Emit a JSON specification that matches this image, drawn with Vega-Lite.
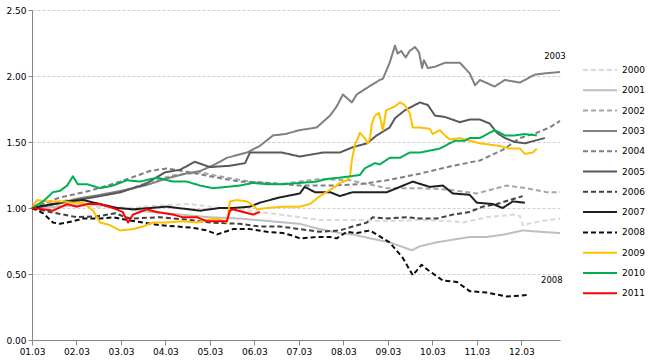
{
  "$schema": "https://vega.github.io/schema/vega-lite/v6.json",
  "width": 528,
  "height": 330,
  "autosize": "none",
  "padding": {"left": 32, "top": 10, "right": 94, "bottom": 24},
  "background": "white",
  "config": {
    "view": {"stroke": null},
    "font": "DejaVu Sans",
    "axis": {"labelFont": "DejaVu Sans", "labelFontSize": 9, "labelColor": "#000000", "domainColor": "#868686", "tickColor": "#868686", "title": null}
  },
  "layer": [
    {
      "data": {"values": [
        {"s":"2000","m":0,"v":1.00},{"s":"2000","m":0.63,"v":1.02},{"s":"2000","m":1.53,"v":1.01},{"s":"2000","m":2.20,"v":1.00},{"s":"2000","m":2.88,"v":1.02},{"s":"2000","m":3.55,"v":1.03},{"s":"2000","m":4.22,"v":1.00},{"s":"2000","m":4.90,"v":0.98},{"s":"2000","m":5.57,"v":0.95},{"s":"2000","m":6.02,"v":0.93},{"s":"2000","m":6.47,"v":0.91},{"s":"2000","m":7.21,"v":0.91},{"s":"2000","m":7.98,"v":0.90},{"s":"2000","m":8.72,"v":0.91},{"s":"2000","m":9.46,"v":0.90},{"s":"2000","m":9.69,"v":0.89},{"s":"2000","m":10.22,"v":0.93},{"s":"2000","m":10.81,"v":0.95},{"s":"2000","m":10.97,"v":0.94},{"s":"2000","m":11.03,"v":0.87},{"s":"2000","m":11.42,"v":0.90},{"s":"2000","m":11.87,"v":0.92},
        {"s":"2001","m":0,"v":1.00},{"s":"2001","m":0.63,"v":1.01},{"s":"2001","m":1.30,"v":1.03},{"s":"2001","m":1.98,"v":1.00},{"s":"2001","m":2.65,"v":0.97},{"s":"2001","m":3.33,"v":0.95},{"s":"2001","m":4.00,"v":0.93},{"s":"2001","m":4.67,"v":0.92},{"s":"2001","m":5.35,"v":0.90},{"s":"2001","m":6.02,"v":0.88},{"s":"2001","m":6.47,"v":0.84},{"s":"2001","m":6.92,"v":0.81},{"s":"2001","m":7.21,"v":0.80},{"s":"2001","m":7.60,"v":0.77},{"s":"2001","m":8.04,"v":0.74},{"s":"2001","m":8.54,"v":0.68},{"s":"2001","m":8.72,"v":0.71},{"s":"2001","m":9.10,"v":0.74},{"s":"2001","m":9.46,"v":0.76},{"s":"2001","m":9.84,"v":0.78},{"s":"2001","m":10.22,"v":0.78},{"s":"2001","m":10.63,"v":0.80},{"s":"2001","m":11.03,"v":0.83},{"s":"2001","m":11.42,"v":0.82},{"s":"2001","m":11.87,"v":0.81},
        {"s":"2002","m":0,"v":1.00},{"s":"2002","m":0.63,"v":1.05},{"s":"2002","m":1.30,"v":1.08},{"s":"2002","m":1.98,"v":1.12},{"s":"2002","m":2.65,"v":1.20},{"s":"2002","m":3.21,"v":1.25},{"s":"2002","m":3.78,"v":1.27},{"s":"2002","m":4.22,"v":1.24},{"s":"2002","m":4.90,"v":1.20},{"s":"2002","m":5.57,"v":1.18},{"s":"2002","m":6.47,"v":1.22},{"s":"2002","m":7.15,"v":1.21},{"s":"2002","m":7.98,"v":1.15},{"s":"2002","m":8.72,"v":1.15},{"s":"2002","m":9.33,"v":1.14},{"s":"2002","m":10.00,"v":1.11},{"s":"2002","m":10.67,"v":1.17},{"s":"2002","m":11.12,"v":1.15},{"s":"2002","m":11.57,"v":1.12},{"s":"2002","m":11.87,"v":1.12},
        {"s":"2003","m":0,"v":1.00},{"s":"2003","m":0.52,"v":1.03},{"s":"2003","m":1.01,"v":1.07},{"s":"2003","m":1.53,"v":1.10},{"s":"2003","m":2.00,"v":1.13},{"s":"2003","m":2.54,"v":1.17},{"s":"2003","m":2.99,"v":1.22},{"s":"2003","m":3.44,"v":1.26},{"s":"2003","m":3.78,"v":1.28},{"s":"2003","m":4.11,"v":1.33},{"s":"2003","m":4.38,"v":1.38},{"s":"2003","m":4.83,"v":1.42},{"s":"2003","m":5.12,"v":1.47},{"s":"2003","m":5.42,"v":1.55},{"s":"2003","m":5.69,"v":1.56},{"s":"2003","m":6.02,"v":1.59},{"s":"2003","m":6.40,"v":1.61},{"s":"2003","m":6.70,"v":1.70},{"s":"2003","m":6.85,"v":1.77},{"s":"2003","m":6.99,"v":1.86},{"s":"2003","m":7.19,"v":1.80},{"s":"2003","m":7.30,"v":1.86},{"s":"2003","m":7.53,"v":1.91},{"s":"2003","m":7.82,"v":1.97},{"s":"2003","m":7.89,"v":1.98},{"s":"2003","m":8.04,"v":2.10},{"s":"2003","m":8.16,"v":2.23},{"s":"2003","m":8.22,"v":2.17},{"s":"2003","m":8.30,"v":2.19},{"s":"2003","m":8.40,"v":2.14},{"s":"2003","m":8.49,"v":2.19},{"s":"2003","m":8.61,"v":2.22},{"s":"2003","m":8.70,"v":2.18},{"s":"2003","m":8.77,"v":2.06},{"s":"2003","m":8.81,"v":2.12},{"s":"2003","m":8.90,"v":2.06},{"s":"2003","m":9.06,"v":2.07},{"s":"2003","m":9.28,"v":2.10},{"s":"2003","m":9.62,"v":2.10},{"s":"2003","m":9.84,"v":2.02},{"s":"2003","m":9.96,"v":1.93},{"s":"2003","m":10.07,"v":1.97},{"s":"2003","m":10.40,"v":1.92},{"s":"2003","m":10.63,"v":1.97},{"s":"2003","m":10.97,"v":1.95},{"s":"2003","m":11.30,"v":2.01},{"s":"2003","m":11.53,"v":2.02},{"s":"2003","m":11.87,"v":2.03},
        {"s":"2004","m":0,"v":1.00},{"s":"2004","m":0.63,"v":1.08},{"s":"2004","m":1.30,"v":1.13},{"s":"2004","m":1.98,"v":1.20},{"s":"2004","m":2.65,"v":1.28},{"s":"2004","m":3.03,"v":1.30},{"s":"2004","m":3.55,"v":1.27},{"s":"2004","m":4.00,"v":1.24},{"s":"2004","m":4.67,"v":1.20},{"s":"2004","m":5.35,"v":1.19},{"s":"2004","m":6.02,"v":1.17},{"s":"2004","m":6.70,"v":1.17},{"s":"2004","m":7.37,"v":1.18},{"s":"2004","m":7.98,"v":1.21},{"s":"2004","m":8.72,"v":1.26},{"s":"2004","m":9.46,"v":1.32},{"s":"2004","m":10.07,"v":1.36},{"s":"2004","m":10.58,"v":1.44},{"s":"2004","m":10.97,"v":1.53},{"s":"2004","m":11.35,"v":1.57},{"s":"2004","m":11.64,"v":1.61},{"s":"2004","m":11.87,"v":1.66},
        {"s":"2005","m":0,"v":1.00},{"s":"2005","m":0.52,"v":1.03},{"s":"2005","m":1.01,"v":1.06},{"s":"2005","m":1.53,"v":1.09},{"s":"2005","m":2.00,"v":1.12},{"s":"2005","m":2.54,"v":1.18},{"s":"2005","m":2.99,"v":1.27},{"s":"2005","m":3.33,"v":1.29},{"s":"2005","m":3.66,"v":1.35},{"s":"2005","m":4.00,"v":1.31},{"s":"2005","m":4.45,"v":1.32},{"s":"2005","m":4.79,"v":1.34},{"s":"2005","m":4.90,"v":1.42},{"s":"2005","m":5.28,"v":1.42},{"s":"2005","m":5.62,"v":1.42},{"s":"2005","m":6.02,"v":1.39},{"s":"2005","m":6.54,"v":1.42},{"s":"2005","m":6.92,"v":1.42},{"s":"2005","m":7.21,"v":1.46},{"s":"2005","m":7.53,"v":1.49},{"s":"2005","m":7.75,"v":1.55},{"s":"2005","m":8.04,"v":1.61},{"s":"2005","m":8.16,"v":1.68},{"s":"2005","m":8.38,"v":1.74},{"s":"2005","m":8.72,"v":1.80},{"s":"2005","m":8.90,"v":1.78},{"s":"2005","m":9.06,"v":1.70},{"s":"2005","m":9.28,"v":1.69},{"s":"2005","m":9.62,"v":1.65},{"s":"2005","m":9.84,"v":1.67},{"s":"2005","m":10.07,"v":1.67},{"s":"2005","m":10.29,"v":1.64},{"s":"2005","m":10.45,"v":1.57},{"s":"2005","m":10.63,"v":1.53},{"s":"2005","m":10.85,"v":1.50},{"s":"2005","m":11.08,"v":1.49},{"s":"2005","m":11.30,"v":1.51},{"s":"2005","m":11.53,"v":1.53},
        {"s":"2006","m":0,"v":1.00},{"s":"2006","m":0.40,"v":0.97},{"s":"2006","m":1.01,"v":0.93},{"s":"2006","m":1.53,"v":0.94},{"s":"2006","m":1.87,"v":0.96},{"s":"2006","m":2.20,"v":0.92},{"s":"2006","m":2.88,"v":0.93},{"s":"2006","m":3.55,"v":0.91},{"s":"2006","m":4.00,"v":0.89},{"s":"2006","m":4.67,"v":0.88},{"s":"2006","m":5.12,"v":0.86},{"s":"2006","m":5.57,"v":0.86},{"s":"2006","m":6.02,"v":0.84},{"s":"2006","m":6.47,"v":0.82},{"s":"2006","m":6.92,"v":0.83},{"s":"2006","m":7.21,"v":0.86},{"s":"2006","m":7.53,"v":0.89},{"s":"2006","m":7.66,"v":0.93},{"s":"2006","m":7.98,"v":0.92},{"s":"2006","m":8.43,"v":0.93},{"s":"2006","m":8.72,"v":0.92},{"s":"2006","m":9.10,"v":0.92},{"s":"2006","m":9.46,"v":0.95},{"s":"2006","m":9.84,"v":0.97},{"s":"2006","m":10.13,"v":1.01},{"s":"2006","m":10.45,"v":1.03},{"s":"2006","m":10.74,"v":1.06},{"s":"2006","m":11.03,"v":1.09},
        {"s":"2007","m":0,"v":1.00},{"s":"2007","m":0.79,"v":1.05},{"s":"2007","m":1.15,"v":1.06},{"s":"2007","m":1.53,"v":1.03},{"s":"2007","m":1.91,"v":1.00},{"s":"2007","m":2.27,"v":0.99},{"s":"2007","m":3.03,"v":1.01},{"s":"2007","m":3.78,"v":0.98},{"s":"2007","m":4.22,"v":1.00},{"s":"2007","m":4.52,"v":1.00},{"s":"2007","m":4.90,"v":1.01},{"s":"2007","m":5.12,"v":1.04},{"s":"2007","m":5.57,"v":1.08},{"s":"2007","m":6.02,"v":1.11},{"s":"2007","m":6.13,"v":1.16},{"s":"2007","m":6.36,"v":1.12},{"s":"2007","m":6.70,"v":1.12},{"s":"2007","m":6.92,"v":1.09},{"s":"2007","m":7.21,"v":1.12},{"s":"2007","m":7.98,"v":1.12},{"s":"2007","m":8.56,"v":1.20},{"s":"2007","m":8.94,"v":1.16},{"s":"2007","m":9.24,"v":1.17},{"s":"2007","m":9.46,"v":1.11},{"s":"2007","m":9.84,"v":1.10},{"s":"2007","m":10.00,"v":1.04},{"s":"2007","m":10.36,"v":1.03},{"s":"2007","m":10.58,"v":1.00},{"s":"2007","m":10.81,"v":1.05},{"s":"2007","m":11.08,"v":1.04},
        {"s":"2008","m":0,"v":1.00},{"s":"2008","m":0.25,"v":0.96},{"s":"2008","m":0.47,"v":0.89},{"s":"2008","m":0.63,"v":0.88},{"s":"2008","m":0.92,"v":0.90},{"s":"2008","m":1.15,"v":0.92},{"s":"2008","m":1.53,"v":0.92},{"s":"2008","m":1.82,"v":0.93},{"s":"2008","m":2.13,"v":0.91},{"s":"2008","m":2.49,"v":0.89},{"s":"2008","m":2.88,"v":0.87},{"s":"2008","m":3.26,"v":0.86},{"s":"2008","m":3.62,"v":0.85},{"s":"2008","m":3.93,"v":0.83},{"s":"2008","m":4.16,"v":0.80},{"s":"2008","m":4.52,"v":0.84},{"s":"2008","m":4.90,"v":0.84},{"s":"2008","m":5.28,"v":0.82},{"s":"2008","m":5.64,"v":0.81},{"s":"2008","m":5.87,"v":0.79},{"s":"2008","m":6.02,"v":0.77},{"s":"2008","m":6.40,"v":0.78},{"s":"2008","m":6.70,"v":0.78},{"s":"2008","m":6.85,"v":0.77},{"s":"2008","m":7.08,"v":0.82},{"s":"2008","m":7.30,"v":0.81},{"s":"2008","m":7.60,"v":0.83},{"s":"2008","m":8.04,"v":0.74},{"s":"2008","m":8.34,"v":0.62},{"s":"2008","m":8.56,"v":0.49},{"s":"2008","m":8.76,"v":0.57},{"s":"2008","m":8.90,"v":0.53},{"s":"2008","m":9.24,"v":0.45},{"s":"2008","m":9.55,"v":0.44},{"s":"2008","m":9.84,"v":0.37},{"s":"2008","m":10.22,"v":0.36},{"s":"2008","m":10.67,"v":0.33},{"s":"2008","m":11.12,"v":0.34},
        {"s":"2009","m":0,"v":1.00},{"s":"2009","m":0.11,"v":1.06},{"s":"2009","m":0.34,"v":1.05},{"s":"2009","m":0.70,"v":1.05},{"s":"2009","m":0.92,"v":1.04},{"s":"2009","m":1.15,"v":1.04},{"s":"2009","m":1.37,"v":0.98},{"s":"2009","m":1.53,"v":0.89},{"s":"2009","m":1.75,"v":0.87},{"s":"2009","m":1.98,"v":0.83},{"s":"2009","m":2.27,"v":0.84},{"s":"2009","m":2.49,"v":0.86},{"s":"2009","m":2.72,"v":0.89},{"s":"2009","m":3.03,"v":0.89},{"s":"2009","m":3.39,"v":0.90},{"s":"2009","m":3.71,"v":0.89},{"s":"2009","m":3.93,"v":0.91},{"s":"2009","m":4.16,"v":0.92},{"s":"2009","m":4.38,"v":0.89},{"s":"2009","m":4.45,"v":1.05},{"s":"2009","m":4.61,"v":1.06},{"s":"2009","m":4.83,"v":1.05},{"s":"2009","m":4.97,"v":1.02},{"s":"2009","m":5.06,"v":0.99},{"s":"2009","m":5.28,"v":1.00},{"s":"2009","m":5.64,"v":1.01},{"s":"2009","m":6.02,"v":1.01},{"s":"2009","m":6.25,"v":1.03},{"s":"2009","m":6.47,"v":1.09},{"s":"2009","m":6.81,"v":1.16},{"s":"2009","m":6.92,"v":1.19},{"s":"2009","m":7.08,"v":1.21},{"s":"2009","m":7.15,"v":1.24},{"s":"2009","m":7.19,"v":1.36},{"s":"2009","m":7.26,"v":1.48},{"s":"2009","m":7.33,"v":1.53},{"s":"2009","m":7.37,"v":1.57},{"s":"2009","m":7.48,"v":1.53},{"s":"2009","m":7.55,"v":1.49},{"s":"2009","m":7.60,"v":1.53},{"s":"2009","m":7.64,"v":1.64},{"s":"2009","m":7.71,"v":1.70},{"s":"2009","m":7.80,"v":1.72},{"s":"2009","m":7.89,"v":1.59},{"s":"2009","m":7.96,"v":1.74},{"s":"2009","m":8.16,"v":1.77},{"s":"2009","m":8.27,"v":1.80},{"s":"2009","m":8.38,"v":1.78},{"s":"2009","m":8.49,"v":1.72},{"s":"2009","m":8.56,"v":1.61},{"s":"2009","m":8.72,"v":1.61},{"s":"2009","m":8.94,"v":1.60},{"s":"2009","m":9.01,"v":1.56},{"s":"2009","m":9.17,"v":1.59},{"s":"2009","m":9.28,"v":1.55},{"s":"2009","m":9.39,"v":1.52},{"s":"2009","m":9.62,"v":1.53},{"s":"2009","m":9.84,"v":1.51},{"s":"2009","m":10.07,"v":1.49},{"s":"2009","m":10.29,"v":1.48},{"s":"2009","m":10.52,"v":1.47},{"s":"2009","m":10.74,"v":1.45},{"s":"2009","m":10.97,"v":1.45},{"s":"2009","m":11.08,"v":1.41},{"s":"2009","m":11.26,"v":1.42},{"s":"2009","m":11.35,"v":1.45},
        {"s":"2010","m":0,"v":1.00},{"s":"2010","m":0.25,"v":1.05},{"s":"2010","m":0.47,"v":1.12},{"s":"2010","m":0.63,"v":1.13},{"s":"2010","m":0.79,"v":1.17},{"s":"2010","m":0.92,"v":1.24},{"s":"2010","m":1.03,"v":1.18},{"s":"2010","m":1.24,"v":1.18},{"s":"2010","m":1.53,"v":1.15},{"s":"2010","m":1.82,"v":1.17},{"s":"2010","m":2.13,"v":1.21},{"s":"2010","m":2.43,"v":1.20},{"s":"2010","m":2.81,"v":1.23},{"s":"2010","m":3.17,"v":1.20},{"s":"2010","m":3.48,"v":1.20},{"s":"2010","m":3.78,"v":1.17},{"s":"2010","m":4.07,"v":1.15},{"s":"2010","m":4.38,"v":1.16},{"s":"2010","m":4.67,"v":1.17},{"s":"2010","m":4.97,"v":1.19},{"s":"2010","m":5.28,"v":1.18},{"s":"2010","m":5.64,"v":1.18},{"s":"2010","m":6.02,"v":1.19},{"s":"2010","m":6.40,"v":1.20},{"s":"2010","m":6.63,"v":1.22},{"s":"2010","m":6.92,"v":1.23},{"s":"2010","m":7.15,"v":1.24},{"s":"2010","m":7.37,"v":1.25},{"s":"2010","m":7.48,"v":1.30},{"s":"2010","m":7.71,"v":1.34},{"s":"2010","m":7.82,"v":1.33},{"s":"2010","m":8.04,"v":1.38},{"s":"2010","m":8.27,"v":1.38},{"s":"2010","m":8.49,"v":1.42},{"s":"2010","m":8.72,"v":1.42},{"s":"2010","m":9.17,"v":1.45},{"s":"2010","m":9.39,"v":1.49},{"s":"2010","m":9.51,"v":1.51},{"s":"2010","m":9.73,"v":1.51},{"s":"2010","m":9.84,"v":1.53},{"s":"2010","m":10.07,"v":1.53},{"s":"2010","m":10.18,"v":1.55},{"s":"2010","m":10.40,"v":1.59},{"s":"2010","m":10.52,"v":1.57},{"s":"2010","m":10.63,"v":1.55},{"s":"2010","m":10.85,"v":1.55},{"s":"2010","m":11.08,"v":1.56},{"s":"2010","m":11.35,"v":1.55},
        {"s":"2011","m":0,"v":1.00},{"s":"2011","m":0.25,"v":0.99},{"s":"2011","m":0.47,"v":0.98},{"s":"2011","m":0.79,"v":1.03},{"s":"2011","m":1.01,"v":1.01},{"s":"2011","m":1.24,"v":1.03},{"s":"2011","m":1.53,"v":1.03},{"s":"2011","m":1.82,"v":1.00},{"s":"2011","m":2.04,"v":0.97},{"s":"2011","m":2.16,"v":0.89},{"s":"2011","m":2.27,"v":0.95},{"s":"2011","m":2.43,"v":0.97},{"s":"2011","m":2.58,"v":0.99},{"s":"2011","m":2.81,"v":0.97},{"s":"2011","m":3.17,"v":0.95},{"s":"2011","m":3.39,"v":0.93},{"s":"2011","m":3.71,"v":0.93},{"s":"2011","m":3.93,"v":0.90},{"s":"2011","m":4.22,"v":0.90},{"s":"2011","m":4.38,"v":0.90},{"s":"2011","m":4.45,"v":0.98},{"s":"2011","m":4.52,"v":0.99},{"s":"2011","m":4.74,"v":0.97},{"s":"2011","m":4.97,"v":0.95},{"s":"2011","m":5.12,"v":0.97}
      ]},
      "mark": {"type": "line", "strokeWidth": 2, "strokeJoin": "round"},
      "encoding": {
        "x": {"field": "m", "type": "quantitative",
          "scale": {"domain": [0, 11.87], "nice": false, "zero": false},
          "axis": {"values": [0,1,2,3,4,5,6,7,8,9,10,11], "labelExpr": "(datum.value < 9 ? '0' : '') + (datum.value + 1) + '.03'", "grid": false, "tickSize": 5, "labelPadding": 2, "labelFlush": false}},
        "y": {"field": "v", "type": "quantitative",
          "scale": {"domain": [0, 2.5], "nice": false},
          "axis": {"values": [0,0.25,0.5,0.75,1,1.25,1.5,1.75,2,2.25,2.5], "format": ".2f", "tickSize": 4, "labelPadding": 2, "grid": true, "gridColor": "#D0D0D0", "gridDash": [3, 2], "gridWidth": 1}},
        "color": {"field": "s", "type": "nominal",
          "scale": {"domain": ["2000","2001","2002","2003","2004","2005","2006","2007","2008","2009","2010","2011"],
                    "range": ["#D9D9D9","#BFBFBF","#A6A6A6","#808080","#808080","#595959","#404040","#1F1F1F","#0D0D0D","#FFC000","#00B050","#FF0000"]},
          "legend": {"title": null, "orient": "none", "legendX": 550, "legendY": 50, "symbolType": "stroke", "symbolSize": 1156, "symbolStrokeWidth": 2, "rowPadding": 0.3, "clipHeight": 20, "labelFontSize": 9, "labelFont": "DejaVu Sans", "labelColor": "#000000", "labelOffset": 4}},
        "strokeDash": {"field": "s", "type": "nominal",
          "scale": {"domain": ["2000","2001","2002","2003","2004","2005","2006","2007","2008","2009","2010","2011"],
                    "range": [[5,3],[1,0],[5,3],[1,0],[5,3],[1,0],[5,3],[1,0],[5,3],[1,0],[1,0],[1,0]]},
          "legend": {"title": null, "orient": "none", "legendX": 550, "legendY": 50, "symbolType": "stroke", "symbolSize": 1156, "symbolStrokeWidth": 2, "rowPadding": 0.3, "clipHeight": 20, "labelFontSize": 9, "labelFont": "DejaVu Sans", "labelColor": "#000000", "labelOffset": 4}}
      }
    },
    {
      "data": {"values": [
        {"m": 12.0, "v": 2.15, "t": "2003"},
        {"m": 11.93, "v": 0.455, "t": "2008"}
      ]},
      "mark": {"type": "text", "align": "right", "baseline": "middle", "fontSize": 8.5, "font": "DejaVu Sans", "color": "#000000"},
      "encoding": {
        "x": {"field": "m", "type": "quantitative"},
        "y": {"field": "v", "type": "quantitative"},
        "text": {"field": "t"}
      }
    }
  ]
}
